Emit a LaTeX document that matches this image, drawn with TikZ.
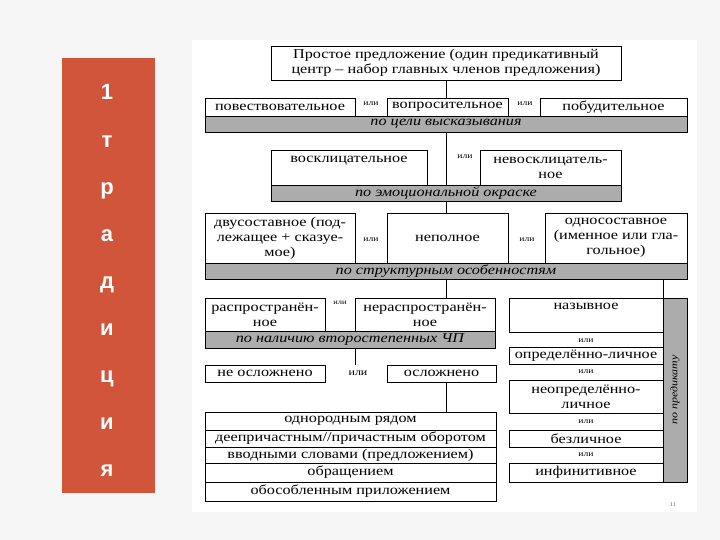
\documentclass[tikz,border=0pt]{standalone}
\usepackage{fontspec}
\setmainfont{Liberation Serif}[FakeStretch=1.2]
\newfontfamily\slidefont{Liberation Sans}

\definecolor{tradred}{RGB}{208,85,58}
\definecolor{bargray}{RGB}{172,172,172}
\definecolor{slidebg}{RGB}{246,246,246}

\tikzset{
  cell/.style={draw, line width=0.8pt, anchor=north west, inner sep=1pt, outer sep=0pt,
    align=center, font=\fontsize{13.5}{15}\selectfont},
  crit/.style={cell, fill=bargray, font=\fontsize{13.5}{15}\selectfont\itshape},
  ili/.style={inner sep=0pt, font=\fontsize{8}{9}\selectfont},
  link/.style={line width=0.8pt},
  letter/.style={anchor=base, text=white, font=\slidefont\bfseries\fontsize{22}{24}\selectfont},
}

\begin{document}
\begin{tikzpicture}[x=1pt, y=-1pt]
\useasboundingbox (0,0) rectangle (720,540);
\fill[slidebg] (0,0) rectangle (720,540);
\fill[white] (192,40) rectangle (697,512);

% left bar with the vertical word
\node[fill=tradred, anchor=north west, minimum width=93, minimum height=435, inner sep=0pt] (tradbar) at (62,58) {};
\foreach \ch [count=\i from 0] in {1,т,р,а,д,и,ц,и,я} {
  \node[letter] (ch\i) at (107, {100+47.1*\i}) {\ch};
}

% top
\node[cell, minimum width=350, minimum height=34] (top) at (271,46)
  {Простое предложение (один предикативный\\центр – набор главных членов предложения)};

% purpose of the utterance
\node[cell, minimum width=150, minimum height=18] (povest) at (205,98) {повествовательное};
\node[ili] (ili1) at (371,104) {или};
\node[cell, minimum width=121, minimum height=18] (vopros) at (387,98) {вопросительное};
\node[ili] (ili2) at (525,104) {или};
\node[cell, minimum width=147, minimum height=18] (pobud) at (540,98) {побудительное};
\node[crit, minimum width=482, minimum height=16] (bar1) at (205,116) {по цели высказывания};

% emotional colouring
\node[cell, minimum width=156, minimum height=35, text depth=17] (vosk) at (271,150) {восклицательное};
\node[ili] (ili3) at (465,157) {или};
\node[cell, minimum width=141, minimum height=35] (nevosk) at (480,150) {невосклицатель-\\ное};
\node[crit, minimum width=350, minimum height=16] (bar2) at (271,185) {по эмоциональной окраске};

% structure
\node[cell, minimum width=150, minimum height=50] (dvus) at (205,213) {двусоставное (под-\\лежащее + сказуе-\\мое)};
\node[ili] (ili4) at (371,240) {или};
\node[cell, minimum width=121, minimum height=50] (nepoln) at (387,213) {неполное};
\node[ili] (ili5) at (527,240) {или};
\node[cell, minimum width=142, minimum height=50] (odnos) at (545,213) {односоставное\\(именное или гла-\\гольное)};
\node[crit, minimum width=482, minimum height=16] (bar3) at (205,263) {по структурным особенностям};

% secondary members
\node[cell, minimum width=120, minimum height=33] (rasp) at (205,298) {распространён-\\ное};
\node[ili, font=\fontsize{7}{8}\selectfont] (ili6) at (340,303) {или};
\node[cell, minimum width=140, minimum height=33] (neras) at (355,298) {нераспространён-\\ное};
\node[crit, minimum width=290, minimum height=17] (bar4) at (205,331) {по наличию второстепенных ЧП};

% complication
\node[cell, minimum width=120, minimum height=17] (neosl) at (205,365) {не осложнено};
\node[ili, font=\fontsize{10}{11}\selectfont] (ili7) at (358,373) {или};
\node[cell, minimum width=109, minimum height=17] (osl) at (387,365) {осложнено};

\node[cell, minimum width=291, minimum height=18] (odnor) at (205,412) {однородным рядом};
\node[cell, minimum width=291, minimum height=17] (deepr) at (205,430) {деепричастным//причастным оборотом};
\node[cell, minimum width=291, minimum height=16] (vvodn) at (205,447) {вводными словами (предложением)};
\node[cell, minimum width=291, minimum height=19] (obrash) at (205,463) {обращением};
\node[cell, minimum width=291, minimum height=19] (obos) at (205,482) {обособленным приложением};

% one-member types
\node[cell, minimum width=154, minimum height=34, text depth=17] (nazyv) at (509,298) {назывное};
\node[ili] (ili8) at (586,341) {или};
\node[cell, minimum width=154, minimum height=17] (opred) at (509,347) {определённо-личное};
\node[ili] (ili9) at (586,372) {или};
\node[cell, minimum width=154, minimum height=33] (neopr) at (509,380) {неопределённо-\\личное};
\node[ili] (ili10) at (586,422) {или};
\node[cell, minimum width=154, minimum height=17] (bezl) at (509,430) {безличное};
\node[ili] (ili11) at (586,455) {или};
\node[cell, minimum width=154, minimum height=19] (infin) at (509,463) {инфинитивное};
\node[crit, anchor=center, rotate=90, minimum width=184, minimum height=24,
  font=\fontsize{10}{11}\selectfont\itshape] (pred) at (675,390) {по предикату};

% connectors
\draw[link] (top.south) -- (top.south |- vopros.north);
\draw[link] (top.south |- bar1.south) -- (top.south |- bar2.north);
\draw[link] (top.south |- bar2.south) -- (top.south |- nepoln.north);
\draw[link] (top.south |- bar3.south) -- (top.south |- neras.north);
\draw[link] (nazyv.north east |- bar3.south) -- (nazyv.north east);
\draw[link] (neras.west |- bar4.south) -- (neras.west |- neosl.north);
\draw[link] (top.south |- osl.south) -- (top.south |- odnor.north);

\node[text=gray, font=\fontsize{6}{7}\selectfont] (pagenum) at (673,505) {11};
\end{tikzpicture}
\end{document}
